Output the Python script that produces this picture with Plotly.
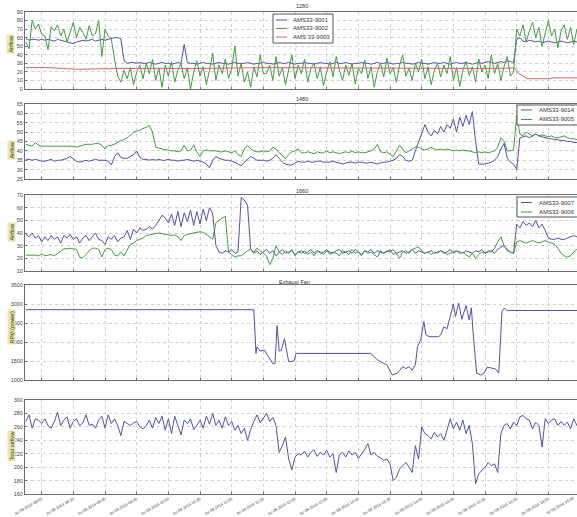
import pandas as pd
import plotly.graph_objects as go
from plotly.subplots import make_subplots

DAY = "2014-07-09 "

# ---------------- data (3-minute samples starting 07:45) ----------------
ams9001 = [59, 57, 58, 58, 57, 58, 57, 58, 57, 56, 58, 57, 56, 55, 54, 53, 55, 56, 57, 56,
           57, 58, 56, 57, 58, 57, 58, 59, 60, 60, 59,
           33, 30, 31, 31, 30, 31, 30, 30, 31, 30,
           29, 30, 31, 30, 30, 29, 30, 31, 30, 52,
           31, 30, 30, 29, 30, 31, 30, 30, 29, 30,
           31, 30, 30, 29, 30, 31, 30, 30, 30, 31,
           30, 29, 30, 30, 31, 30, 30, 29, 30, 31,
           30, 30, 31, 30, 29, 30, 30, 31, 30, 30,
           29, 30, 31, 30, 30, 29, 30, 31, 30, 30,
           31, 30, 29, 30, 30, 31, 30, 30, 29, 30,
           31, 30, 30, 31, 30, 29, 30, 30, 31, 30,
           30, 29, 30, 31, 30, 30, 29, 30, 31, 30,
           30, 31, 30, 29, 30, 31, 30, 30, 31, 30,
           29, 30, 31, 30, 31, 32, 31, 30, 31, 32,
           31, 33, 32, 31,
           58, 60, 56, 55, 57, 56, 55, 56, 54, 55, 56, 55, 54, 55, 56, 55, 54, 55, 56, 55, 55]

ams9002 = [55, 47, 80, 70, 76, 64, 62, 46, 73, 68, 75, 62, 70, 55, 66, 78, 60, 72, 66, 58,
           74, 62, 65, 80, 38, 70, 62, 58, 35,
           15, 8, 22, 12, 25, 5, 20, 28, 12, 30,
           18, 35, 10, 25, 2, 28, 15, 32, 8, 22,
           30, 12, 25, 0, 20, 33, 15, 26, 5, 22,
           42, 10, 28, 18, 35, 12, 24, 50, 15, 30,
           8, 20, 2, 26, 14, 40, 18, 18, 28, 10,
           38, 15, 25, 5, 22, 40, 12, 28, 18, 35,
           8, 24, 30, 12, 26, 4, 20, 32, 14, 38,
           22, 10, 28, 16, 30, 6, 24, 18, 34, 12,
           26, 2, 20, 30, 14, 36, 18, 25, 8, 28,
           40, 15, 24, 10, 30, 20, 35, 12, 26, 5,
           22, 30, 14, 28, 18, 38, 10, 25, 3, 22,
           32, 16, 26, 8, 35, 20, 28, 12, 40, 18,
           30, 10, 26, 38, 15, 20,
           70, 62, 75, 55, 68, 78, 60, 72, 50, 66, 80, 62, 70, 48, 68, 75, 58, 72, 52, 70, 65]

ams9003_times = ["07:45", "08:05", "08:20", "08:35", "08:50", "09:20", "10:30", "11:30", "13:00",
                 "14:00", "15:00", "15:28", "15:31", "15:40", "16:00", "16:05", "16:30"]
ams9003 = [25, 25, 24, 23, 23.5, 24, 24, 25, 24.5, 24, 24, 24.5, 19, 12, 12, 13, 13]

ams9014 = [35.5, 35.5, 35, 35.5, 35, 34.5, 34.5, 35, 35.5, 34.5,
           35, 35, 35.5, 36, 37, 35.5, 34.5, 34, 34.5, 35,
           34.5, 35, 35.5, 35, 35, 35, 34.5, 32.5, 37, 39,
           36.5, 36, 36, 37, 38, 40, 36.5, 35.5, 35.5, 35,
           35.5, 35, 35.5, 35, 35, 35.5, 35, 35, 34.5, 35,
           35, 35.5, 35, 34.5, 35, 34.5, 34, 33, 31, 35,
           37, 36, 35.5, 35, 35, 34.5, 34, 33, 32, 34,
           35.5, 37, 36, 35, 35, 35, 34.5, 35, 36, 38,
           36, 34, 33, 32.5, 32.5, 33.5, 34.5, 34, 34, 34.5,
           34, 34, 34.5, 34.5, 34, 34, 34, 34.5, 34, 33.5,
           33, 33.5, 34, 34, 33.5, 34, 34, 33.5, 33.5, 34,
           33.5, 33, 33.5, 34, 34, 34.5, 35, 36, 38, 37,
           35, 34.5, 35, 40, 45, 50, 54, 50, 48, 51,
           49, 53, 50, 54, 52, 57, 50, 58, 53, 59,
           54, 61, 45, 33, 33, 33, 33.5, 34, 35, 37,
           41, 44, 36, 34, 33, 30, 47, 47.5, 48, 47,
           48, 49, 48, 47.5, 47, 46.5, 46.5, 46, 46, 45.5,
           45.5, 45, 45, 44.5, 44.5, 44]

ams9005 = [43.5, 43, 42.5, 44.5, 43, 42.5, 42.5, 42.5, 42.5, 42.5,
           42.5, 42.5, 42.5, 42.5, 42.5, 42.5, 42, 42.5, 43, 43.5,
           43.5, 43.5, 44, 44, 43, 41, 43, 43, 43.5, 44.5,
           45.5, 46, 47, 48.5, 50, 50.5, 51, 52, 52.5, 53.5,
           50, 42, 41.5, 41, 40.5, 40.5, 40, 40, 39.5, 40,
           43, 40, 40.5, 43, 39.5, 37, 40, 40.5, 40, 40,
           40, 39.5, 39.5, 40, 39.5, 39, 40, 38, 37, 41,
           43, 41, 40, 39.5, 39.5, 40, 39.5, 40, 42, 41,
           39, 37.5, 36, 38, 39.5, 40, 41, 39, 39, 39.5,
           39, 38.5, 39.5, 39, 39, 40, 39, 39.5, 39, 38.5,
           39, 39.5, 39, 40, 39, 39.5, 39, 39, 39.5, 40,
           41, 43.5, 39.5, 39, 39.5, 38, 37, 40, 43, 41,
           39, 40, 41, 42, 42, 41, 40.5, 41, 42, 41,
           40.5, 41, 40.5, 41, 40.5, 40, 40.5, 40, 40.5, 40,
           40, 39.5, 39, 39.5, 39, 39.5, 39, 39.5, 40, 42,
           47, 45, 40, 40, 40.5, 59, 49, 48, 50, 49,
           48, 49, 48, 48.5, 48, 47.5, 48, 47, 47, 47.5,
           48, 47, 46.5, 46.5, 46, 46]

ams9007 = [39, 37, 40, 36, 38, 33, 37, 34, 38, 35,
           37, 32, 38, 36, 39, 35, 37, 32, 36, 38,
           34, 37, 40, 35, 34, 31, 37, 35, 38, 33,
           36, 37, 42, 35, 43, 40, 44, 42, 43, 45,
           43, 46, 50, 54, 52, 48, 55, 46, 57, 45,
           56, 49, 58, 46, 57, 47, 59, 50, 60, 55,
           30, 25, 24, 26, 25, 27, 24, 25, 68, 66,
           62, 27, 24, 26, 23, 25, 27, 24, 26, 22,
           25, 27, 24, 25, 26, 23, 25, 26, 24, 25,
           27, 24, 26, 25, 23, 26, 25, 24, 26, 27,
           24, 25, 26, 24, 27, 25, 23, 26, 25, 27,
           24, 26, 25, 24, 26, 25, 27, 24, 25, 26,
           24, 25, 27, 24, 26, 25, 24, 25, 26, 24,
           25, 26, 24, 25, 27, 24, 26, 25, 24, 26,
           25, 24, 26, 25, 27, 24, 25, 26, 24, 27,
           29, 30, 27, 25, 24, 47, 44, 49, 46, 48,
           45, 50, 44, 47, 42, 36, 35, 35, 36, 35,
           35, 36, 37, 38, 37, 38]

ams9006 = [22.5, 22.5, 23, 22.5, 22, 23.5, 22, 22.5, 23, 22,
           24, 26, 27.5, 27.5, 28, 27.5, 27, 21, 20.5, 23,
           26, 28, 28, 27, 21, 27, 28, 27, 22.5, 22,
           25, 22, 27, 31, 32, 34, 35, 36, 38, 38.5,
           39, 39.5, 40, 39.5, 39, 38.5, 38, 38.5, 37, 34,
           38, 39, 39.5, 40, 40.5, 41, 40.5, 39, 37, 35,
           48, 50, 52, 53, 25, 23, 21, 22, 22, 24,
           26, 27, 25, 28, 26, 24, 22, 15, 20, 30,
           25, 23, 26, 24, 27, 22, 25, 24, 26, 23,
           25, 22, 26, 24, 25, 27, 23, 25, 24, 22,
           26, 25, 23, 27, 24, 25, 22, 26, 24, 25,
           23, 21, 26, 24, 25, 27, 23, 24, 20, 25,
           26, 24, 27, 28, 29, 26, 24, 25, 23, 25,
           24, 26, 25, 23, 24, 25, 26, 24, 25, 23,
           21, 24, 20, 23, 25, 24, 26, 25, 28, 33,
           37, 30, 26, 25, 24, 33, 34, 33, 32, 33,
           34, 33, 32, 33, 34, 33, 32, 31, 28, 24,
           22, 21, 22, 25, 27, 27]

fan_times = ["07:45", "11:21", "11:23", "11:24", "11:27", "11:31", "11:34", "11:37", "11:39", "11:41",
             "11:43", "11:45", "11:47", "11:50", "11:52", "11:54", "11:59", "12:01", "13:12", "13:18",
             "13:21", "13:27", "13:32", "13:37", "13:42", "13:45", "13:48", "13:51", "13:54", "13:56",
             "13:59", "14:02", "14:04", "14:07", "14:16", "14:18", "14:21", "14:24", "14:27", "14:30",
             "14:32", "14:35", "14:38", "14:42", "14:45", "14:47", "14:49", "14:52", "14:56", "14:59",
             "15:02", "15:07", "15:10", "15:13", "15:15", "15:16", "15:18", "15:21", "16:30"]
fan_power = [2850, 2850, 1700, 1870, 1760, 1790, 1650, 1500, 1430, 1430,
             2430, 1760, 1780, 2090, 1750, 1480, 1500, 1700, 1700, 1530,
             1480, 1400, 1130, 1180, 1350, 1300, 1350, 1260, 1400, 1880,
             2050, 2540, 2190, 2140, 2140, 2190, 2400, 2350, 2670, 3000,
             2670, 3020, 2600, 2960, 2580, 2900, 2140, 1180, 1130, 1180,
             1340, 1300, 1290, 1180, 2230, 2800, 2890, 2830, 2830]

total_airflow = [268, 278, 258, 272, 270, 265, 272, 262, 258, 268,
                 282, 262, 270, 275, 258, 268, 272, 262, 266, 278,
                 262, 264, 258, 270, 276, 258, 278, 265, 272, 262,
                 247, 268, 265, 262, 266, 268, 260, 257, 262, 270,
                 258, 274, 265, 276, 255, 272, 250, 276, 262, 248,
                 270, 265, 272, 256, 262, 270, 258, 276, 264, 280,
                 262, 270, 258, 275, 262, 268, 255, 262, 250, 258,
                 240, 256, 268, 278, 266, 274, 280, 268, 274, 262,
                 222, 232, 245, 212, 196, 215, 220, 218, 224, 215,
                 222, 226, 216, 222, 218, 225, 215, 220, 192, 218,
                 222, 215, 224, 218, 222, 213, 220, 226, 235, 218,
                 222, 216, 214, 210, 212, 205, 180, 185, 197, 202,
                 207, 200, 192, 232, 212, 260, 250, 247, 242, 252,
                 245, 250, 240, 255, 272, 257, 267, 255, 270, 250,
                 262, 235, 175, 190, 195, 200, 207, 202, 205, 192,
                 250, 262, 265, 257, 267, 262, 275, 277, 272, 270,
                 257, 267, 262, 230, 272, 265, 270, 272, 262, 268,
                 262, 267, 257, 272, 262, 268]

panel_titles = ["1280", "1480", "1660", "Exhaust Fan", ""]
y_labels = ["Airflow", "Airflow", "Airflow", "RPM (power)", "Total airflow"]
tick_clock = ["08:00", "08:30", "09:00", "09:30", "10:00", "10:30", "11:00", "11:30", "12:00",
              "12:30", "13:00", "13:30", "14:00", "14:30", "15:00", "15:30", "16:00", "16:30"]
tick_labels = ["Jul 09 2014 " + c for c in tick_clock]

# ---------------- layout helpers ----------------
W, H = 577, 517
ML, MR, MT, MB = 25, 0, 12, 23
FONT = "Liberation Sans, Arial, sans-serif"


def yp(px):
    return (H - MB - px) / (H - MT - MB)


def xp(px):
    return (px - ML) / (W - ML - MR)


BLUE = "#5252a8"
GREEN = "#459a45"
RED = "#cc6868"

sample_times = pd.date_range(DAY + "07:45", periods=len(ams9001), freq="3min")

series = [
    (1, sample_times, ams9001, "AMS33-9001", BLUE),
    (1, sample_times, ams9002, "AMS33-9002", GREEN),
    (1, [DAY + t for t in ams9003_times], ams9003, "AMS 33-9003", RED),
    (2, sample_times, ams9014, "AMS33-9014", BLUE),
    (2, sample_times, ams9005, "AMS33-9005", GREEN),
    (3, sample_times, ams9007, "AMS33-9007", BLUE),
    (3, sample_times, ams9006, "AMS33-9006", GREEN),
    (4, [DAY + t for t in fan_times], fan_power, "Exhaust Fan", BLUE),
    (5, sample_times, total_airflow, "Total airflow", BLUE),
]

fig = make_subplots(rows=5, cols=1, shared_xaxes=True, vertical_spacing=0.02)
for row, x, y, name, col in series:
    fig.add_trace(go.Scatter(x=x, y=y, mode="lines", name=name, showlegend=False,
                             line=dict(color=col, width=1)), row=row, col=1)

panel_px = [(12, 89), (104, 179), (195, 271), (285, 380), (400, 494)]
y_axes = [(0, 90, 10), (25, 65, 5), (10, 70, 10), (1000, 3500, 500), (160, 300, 20)]
title_px = [(302, 6), (302, 99), (302, 191), (294, 282), (302, 394)]
ylabel_py = [44, 150, 232, 327, 446]

AX = "#6e6e6e"
GRID = "#d0d0d0"

fig.update_xaxes(type="date", range=[DAY + "07:44:12", DAY + "16:27:06"],
                 tickvals=[DAY + c for c in tick_clock[:-1]], ticktext=tick_labels[:-1],
                 showgrid=True, gridcolor=GRID, griddash="dot", gridwidth=1,
                 showline=True, linecolor=AX, linewidth=1, mirror=True,
                 ticks="inside", ticklen=2, tickcolor=AX, zeroline=False,
                 tickangle=-30, tickfont=dict(size=4, color="#444", family=FONT))

annotations = []
for i, ((top, bot), (lo, hi, step)) in enumerate(zip(panel_px, y_axes)):
    fig.update_yaxes(row=i + 1, col=1, domain=[yp(bot), yp(top)], range=[lo, hi],
                     tick0=lo, dtick=step, showgrid=True, gridcolor=GRID, griddash="dot",
                     gridwidth=1, showline=True, linecolor=AX, linewidth=1, mirror=True,
                     ticks="inside", ticklen=2, tickcolor=AX, zeroline=False,
                     tickfont=dict(size=5.5, color="#444", family=FONT))
    if panel_titles[i]:
        annotations.append(dict(text=panel_titles[i], xref="paper", yref="paper",
                                x=xp(title_px[i][0]), y=yp(title_px[i][1]),
                                xanchor="center", yanchor="middle", showarrow=False,
                                font=dict(size=5.5, color="#333", family=FONT)))
    annotations.append(dict(text=y_labels[i], xref="paper", yref="paper",
                            x=xp(11), y=yp(ylabel_py[i]), textangle=-90,
                            xanchor="center", yanchor="middle", showarrow=False,
                            bgcolor="#ebe5b0", borderpad=0.5,
                            font=dict(size=5.5, color="#333", family=FONT)))

# last time label (its tick lies just past the right edge of the visible plot)
annotations.append(dict(text=tick_labels[-1], xref="paper", yref="paper",
                        x=xp(560), y=yp(506), textangle=-30, xanchor="center",
                        yanchor="middle", showarrow=False,
                        font=dict(size=4, color="#444", family=FONT)))

# legends drawn as boxes with short line samples
legends = [
    ((273, 14, 333, 43), [20, 28.5, 37], 276, 291, [series[0], series[1], series[2]]),
    ((517, 105, 600, 125), [110, 119.5], 521, 537, [series[3], series[4]]),
    ((517, 197, 600, 217), [202.5, 212], 521, 537, [series[5], series[6]]),
]
shapes = []
for (x0, y0, x1, y1), rows_y, lx, tx, entries in legends:
    shapes.append(dict(type="rect", xref="paper", yref="paper",
                       x0=xp(x0), x1=xp(x1), y0=yp(y1), y1=yp(y0),
                       fillcolor="white", line=dict(color="#555", width=1), layer="above"))
    for ry, s in zip(rows_y, entries):
        shapes.append(dict(type="line", xref="paper", yref="paper",
                           x0=xp(lx), x1=xp(lx + 11), y0=yp(ry), y1=yp(ry),
                           line=dict(color=s[4], width=1), layer="above"))
        annotations.append(dict(text=s[3], xref="paper", yref="paper",
                                x=xp(tx), y=yp(ry), xanchor="left", yanchor="middle",
                                showarrow=False,
                                font=dict(size=6, color="#333", family=FONT)))

fig.update_layout(width=W, height=H, margin=dict(l=ML, r=MR, t=MT, b=MB),
                  paper_bgcolor="white", plot_bgcolor="white",
                  font=dict(family=FONT, size=6, color="#333"),
                  annotations=annotations, shapes=shapes, showlegend=False)

# remove the page's default 8px body margin so the figure fills the window exactly
fig.write_html("out.html", config={"displayModeBar": False},
               post_script="document.body.style.margin='0px';")
